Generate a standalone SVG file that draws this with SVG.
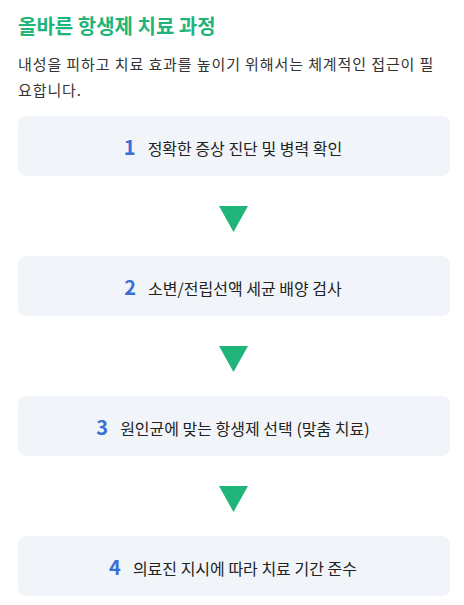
<svg xmlns="http://www.w3.org/2000/svg" width="464" height="605" viewBox="0 0 464 605">
<style>
.title{font-family:"Noto Sans CJK KR","Noto Sans",sans-serif;font-size:20px;font-weight:700;fill:#1fb57a}
.sub{font-family:"Noto Sans CJK KR","Noto Sans",sans-serif;font-size:15px;fill:#333;letter-spacing:0.9px}
.box{fill:#f1f5f9}
.num{font-family:"Noto Sans CJK KR","Noto Sans",sans-serif;font-size:20px;font-weight:700;fill:#3b6fd6}
.lbl{font-family:"Noto Sans CJK KR","Noto Sans",sans-serif;font-size:16px;fill:#222}
.arr{fill:#1fb57a}
</style>
<rect width="464" height="605" fill="#ffffff"/>
<text class="title" x="18" y="34">올바른 항생제 치료 과정</text>
<text class="sub" x="18" y="70">내성을 피하고 치료 효과를 높이기 위해서는 체계적인 접근이 필</text>
<text class="sub" x="18" y="96">요합니다.</text>
<g id="connectors">
<polygon class="arr" points="219,206 248,206 233.5,232"/>
<polygon class="arr" points="219,346 248,346 233.5,372"/>
<polygon class="arr" points="219,486 248,486 233.5,512"/>
</g>
<g id="step1">
<rect class="box" x="18" y="116" width="432" height="60" rx="8"/>
<text x="233" y="155" text-anchor="middle"><tspan class="num">1</tspan><tspan class="lbl" dx="12">정확한 증상 진단 및 병력 확인</tspan></text>
</g>
<g id="step2">
<rect class="box" x="18" y="256" width="432" height="60" rx="8"/>
<text x="233" y="295" text-anchor="middle"><tspan class="num">2</tspan><tspan class="lbl" dx="12">소변/전립선액 세균 배양 검사</tspan></text>
</g>
<g id="step3">
<rect class="box" x="18" y="396" width="432" height="60" rx="8"/>
<text x="233" y="435" text-anchor="middle"><tspan class="num">3</tspan><tspan class="lbl" dx="12">원인균에 맞는 항생제 선택 (맞춤 치료)</tspan></text>
</g>
<g id="step4">
<rect class="box" x="18" y="536" width="432" height="60" rx="8"/>
<text x="233" y="575" text-anchor="middle"><tspan class="num">4</tspan><tspan class="lbl" dx="12">의료진 지시에 따라 치료 기간 준수</tspan></text>
</g>
</svg>
